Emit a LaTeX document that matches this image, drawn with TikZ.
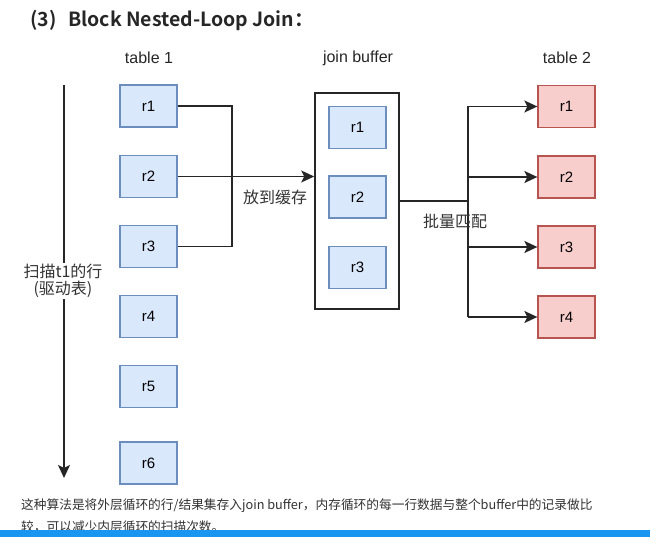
\documentclass[tikz,border=0pt]{standalone}
\usepackage{fontspec}
\setmainfont{Liberation Sans}
\newfontfamily\cjk{Noto Sans CJK SC}
\newfontfamily\cjkbold{Noto Sans CJK SC Bold}
\usetikzlibrary{arrows.meta}
\definecolor{bluefill}{HTML}{DAE8FC}
\definecolor{bluedraw}{HTML}{6C8EBF}
\definecolor{redfill}{HTML}{F8CECC}
\definecolor{reddraw}{HTML}{B85450}
\definecolor{txt}{HTML}{333333}
\definecolor{barblue}{RGB}{24,150,240}
\begin{document}
\begin{tikzpicture}[x=1pt,y=-1pt,
  bbox/.style={draw=bluedraw,fill=bluefill,line width=1.3pt,minimum width=57pt,minimum height=42pt,inner sep=0pt,font=\fontsize{15}{17}\selectfont},
  rbox/.style={draw=reddraw,fill=redfill,line width=1.3pt,minimum width=57pt,minimum height=42pt,inner sep=0pt,font=\fontsize{15}{17}\selectfont},
  conn/.style={line width=1.6pt,draw=black!85},
  arr/.style={conn,-{Stealth[length=13pt,width=12pt,inset=3pt]}},
  lbl/.style={font=\fontsize{16}{19}\selectfont,text=black!85},
  cjklbl/.style={font=\cjk\fontsize{16}{19}\selectfont,text=black!80,inner sep=1pt}]
\useasboundingbox (0,0) rectangle (650,537);
\fill[white] (0,0) rectangle (650,537);
% title
\node[anchor=west,inner sep=0pt,text=black!85,font=\cjkbold\fontsize{19.5}{22}\selectfont] (title) at (30,20) {(3)\hspace{0.6em}Block Nested-Loop Join：};
% headers
\node[lbl] (h1) at (149,58) {table 1};
\node[lbl] (h2) at (358,58) {join buffer};
\node[lbl] (h3) at (567,58) {table 2};
% table 1
\node[bbox] (a1) at (148.5,106) {r1};
\node[bbox] (a2) at (148.5,176.5) {r2};
\node[bbox] (a3) at (148.5,246.5) {r3};
\node[bbox] (a4) at (148.5,316.5) {r4};
\node[bbox] (a5) at (148.5,386.5) {r5};
\node[bbox] (a6) at (148.5,463) {r6};
% buffer
\node[draw=black!85,line width=1.6pt,minimum width=84pt,minimum height=216pt,inner sep=0pt] (buf) at (357,201) {};
\node[bbox] (b1) at (357.5,127.5) {r1};
\node[bbox] (b2) at (357.5,197) {r2};
\node[bbox] (b3) at (357.5,267.5) {r3};
% table 2
\node[rbox] (c1) at (566.5,106.5) {r1};
\node[rbox] (c2) at (566.5,177) {r2};
\node[rbox] (c3) at (566.5,247) {r3};
\node[rbox] (c4) at (566.5,317) {r4};
% connectors table1 -> buffer
\coordinate (jx) at (232,0);
\draw[conn] (a1.east) -- (a1.east -| jx) -- (a3.east -| jx) -- (a3.east);
\draw[arr] (a2.east) -- (a2.east -| buf.west);
\node[cjklbl] (l1) at (275,197) {放到缓存};
% buffer -> table2
\coordinate (kx) at (468,0);
\draw[conn] (buf.east) -- (buf.east -| kx);
\draw[conn] (c1.west -| kx) -- (c4.west -| kx);
\draw[arr] (c1.west -| kx) -- (c1.west);
\draw[arr] (c2.west -| kx) -- (c2.west);
\draw[arr] (c3.west -| kx) -- (c3.west);
\draw[arr] (c4.west -| kx) -- (c4.west);
\node[cjklbl] (l2) at (455,221) {批量匹配};
% scan arrow
\coordinate (s0) at (64,85);
\coordinate (s1) at (64,478);
\draw[arr] (s0) -- (s1);
\node[cjklbl,fill=white,align=center,font=\cjk\fontsize{16}{17}\selectfont] (l3) at (63,281) {扫描t1的行\\(驱动表)};
% bottom text
\node[anchor=west,inner sep=0pt,text=txt,font=\cjk\fontsize{12.7}{15}\selectfont] (d1) at (21,506) {这种算法是将外层循环的行/结果集存入join buffer，内存循环的每一行数据与整个buffer中的记录做比};
\node[anchor=west,inner sep=0pt,text=txt,font=\cjk\fontsize{12.7}{15}\selectfont] (d2) at (21,527) {较，可以减少内层循环的扫描次数。};
\fill[barblue] (0,530) rectangle (650,537);
\end{tikzpicture}
\end{document}
